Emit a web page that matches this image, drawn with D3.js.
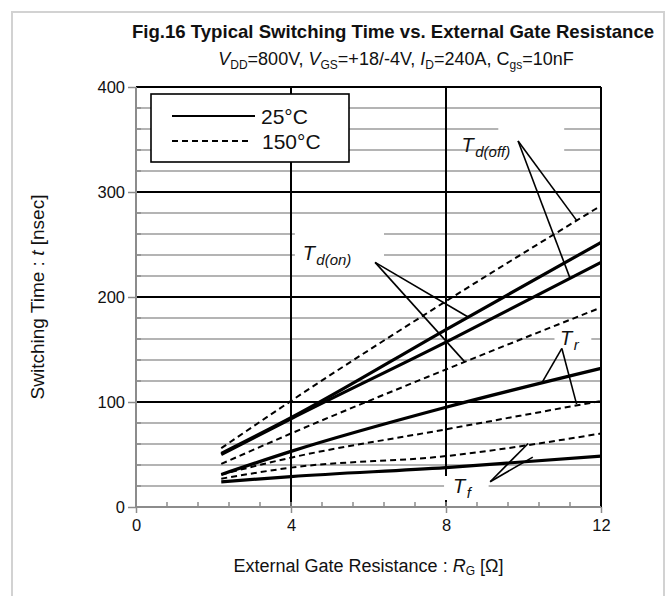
<!DOCTYPE html>
<html><head><meta charset="utf-8">
<script src="https://cdn.jsdelivr.net/npm/d3@7"></script>
<style>body{margin:0;background:#fff}svg{display:block}text{font-family:Arial,"Liberation Sans",sans-serif;fill:#111}</style>
</head><body><svg id="c" width="671" height="596"></svg>
<script>
// ---- data ----
const rg = [2.2, 4, 8, 12];
const tdOn25 = [51, 85, 169, 252];
const tdOff25 = [50, 84, 157, 233];
const tr25 = [31, 53, 95, 132];
const tf25 = [24, 29, 37.5, 48.5];
const tdOff150 = [56, 101, 196, 287];
const tdOn150 = [41, 70, 131, 190];
const tr150 = [31, 47, 74, 101];
const tf150 = [27, 37.5, 48.5, 70];
const xMajor = [0, 4, 8, 12];
const yMajor = [0, 100, 200, 300, 400];
const legendLabels = ["25°C", "150°C"];
const labelNames = [["T","d(off)"],["T","d(on)"],["T","r"],["T","f"]];

const svg = d3.select("#c");
const x = d3.scaleLinear().domain([0, 12]).range([136, 601]);
const y = d3.scaleLinear().domain([0, 400]).range([507, 87]);

// outer frame
svg.append("rect").attr("x",12).attr("y",12).attr("width",652).attr("height",600)
  .attr("fill","none").attr("stroke","#d2d2d2").attr("stroke-width",2);

// title
svg.append("text").attr("x",393).attr("y",38).attr("text-anchor","middle")
  .style("font-weight","bold").style("font-size","18.6px")
  .text("Fig.16 Typical Switching Time vs. External Gate Resistance");
const sub = svg.append("text").attr("x",396).attr("y",65).attr("text-anchor","middle").style("font-size","18px");
const subParts = [["V","i"],["DD","s"],["=800V, ",""],["V","i"],["GS","s"],["=+18/-4V, ",""],["I","i"],["D","s"],["=240A, C",""],["gs","s"],["=10nF",""]];
let prevSub = false;
subParts.forEach(([t,k])=>{
  const ts = sub.append("tspan").text(t);
  if(k==="i") ts.style("font-style","italic");
  if(k==="s"){ ts.style("font-size","12px").attr("dy",4); prevSub=true; }
  else if(prevSub){ ts.attr("dy",-4); prevSub=false; }
});

// grid: gray minor
const gMinorY = d3.range(20, 400, 20).filter(v=>v%100!==0);
svg.append("g").selectAll("line").data(gMinorY).join("line")
  .attr("x1",x(0)).attr("x2",x(12)).attr("y1",d=>y(d)).attr("y2",d=>y(d))
  .attr("stroke","#b4b4b4").attr("stroke-width",2);
// black major horizontal
svg.append("g").selectAll("line").data(yMajor.filter(v=>v>0)).join("line")
  .attr("x1",x(0)).attr("x2",x(12)).attr("y1",d=>y(d)).attr("y2",d=>y(d))
  .attr("stroke","#000").attr("stroke-width",2);
// black major vertical
svg.append("g").selectAll("line").data(xMajor.filter(v=>v>0)).join("line")
  .attr("x1",d=>x(d)).attr("x2",d=>x(d)).attr("y1",y(0)).attr("y2",y(400))
  .attr("stroke","#000").attr("stroke-width",2);

// white boxes behind annotation labels
const boxes = [[7.95,9.1,476,500],[4.1,6.4,224,268],[10.8,11.75,327,352],[9.35,11.05,122,162]];
svg.append("g").selectAll("rect").data(boxes).join("rect")
  .attr("x",d=>x(d[0])).attr("width",d=>x(d[1])-x(d[0]))
  .attr("y",d=>d[2]).attr("height",d=>d[3]-d[2]).attr("fill","#fff");

// axes lines
svg.append("line").attr("x1",x(0)).attr("x2",x(0)).attr("y1",y(0)+1).attr("y2",y(400))
  .attr("stroke","#8c8c8c").attr("stroke-width",2);
svg.append("line").attr("x1",x(0)).attr("x2",x(12)).attr("y1",y(0)).attr("y2",y(0))
  .attr("stroke","#8c8c8c").attr("stroke-width",2);

// y axis ticks
const yAxis = d3.axisLeft(y).tickValues(yMajor).tickSize(8).tickPadding(3);
const ya = svg.append("g").attr("transform",`translate(${x(0)},0)`).call(yAxis);
ya.select(".domain").remove();
ya.selectAll(".tick line").attr("stroke","#8c8c8c").attr("stroke-width",1.5);
ya.selectAll(".tick text").style("font-size","16.5px").style("font-family","Arial, 'Liberation Sans', sans-serif").attr("fill","#111");
svg.append("g").selectAll("line").data(gMinorY).join("line")
  .attr("x1",x(0)).attr("x2",x(0)+5).attr("y1",d=>y(d)).attr("y2",d=>y(d))
  .attr("stroke","#8c8c8c").attr("stroke-width",1.5);

// x axis ticks
const xAxis = d3.axisBottom(x).tickValues(xMajor).tickSize(6).tickPadding(6);
const xa = svg.append("g").attr("transform",`translate(0,${y(0)})`).call(xAxis);
xa.select(".domain").remove();
xa.selectAll(".tick line").attr("stroke","#8c8c8c").attr("stroke-width",1.5);
xa.selectAll(".tick text").style("font-size","16.5px").style("font-family","Arial, 'Liberation Sans', sans-serif").attr("fill","#111");
const xMinor = d3.range(1,15).map(i=>i*0.8).filter(v=>v<12);
svg.append("g").selectAll("line").data(xMinor).join("line")
  .attr("x1",d=>x(d)).attr("x2",d=>x(d)).attr("y1",y(0)).attr("y2",y(0)-5)
  .attr("stroke","#8c8c8c").attr("stroke-width",1.5);

// axis titles
const yt = svg.append("text").attr("transform",`translate(44,${(y(0)+y(400))/2}) rotate(-90)`)
  .attr("text-anchor","middle").style("font-size","19px");
yt.append("tspan").text("Switching Time : ");
yt.append("tspan").text("t").style("font-style","italic");
yt.append("tspan").text(" [nsec]");
const xt = svg.append("text").attr("x",(x(0)+x(12))/2).attr("y",572).attr("text-anchor","middle").style("font-size","18px");
xt.append("tspan").text("External Gate Resistance : ");
xt.append("tspan").text("R").style("font-style","italic");
xt.append("tspan").text("G").style("font-size","12px").attr("dy",3);
xt.append("tspan").text(" [Ω]").attr("dy",-3);

// series
const series = [
  {v:tdOn25, dash:false},{v:tdOff25, dash:false},{v:tr25, dash:false},{v:tf25, dash:false},
  {v:tdOff150, dash:true},{v:tdOn150, dash:true},{v:tr150, dash:true},{v:tf150, dash:true}
];
const line = d3.line().x(d=>x(d[0])).y(d=>y(d[1])).curve(d3.curveMonotoneX);
svg.append("g").selectAll("path").data(series).join("path")
  .attr("d",s=>line(rg.map((r,i)=>[r,s.v[i]])))
  .attr("fill","none").attr("stroke","#000")
  .attr("stroke-width",s=>s.dash?2:3.2)
  .attr("stroke-dasharray",s=>s.dash?"6,4":null);

// annotation leader lines (data units)
const leaders = [
  [[9.86,348.6],[11.37,273]],[[9.86,348.6],[11.2,218]],
  [[6.17,233],[8.57,181]],[[6.17,233],[8.49,138]],
  [[10.99,151],[10.47,118]],[[10.99,151],[11.37,98]],
  [[9.14,24.1],[10.12,60.5]],[[9.14,24.1],[10.24,47.5]]
];
svg.append("g").selectAll("line").data(leaders).join("line")
  .attr("x1",d=>x(d[0][0])).attr("y1",d=>y(d[0][1]))
  .attr("x2",d=>x(d[1][0])).attr("y2",d=>y(d[1][1]))
  .attr("stroke","#000").attr("stroke-width",1.6);

// annotation labels
const labelPos = [[8.4,338],[4.3,235],[10.94,154],[8.18,13.5]];
labelPos.forEach((p,i)=>{
  const t = svg.append("text").attr("x",x(p[0])).attr("y",y(p[1])).style("font-style","italic").style("font-size","20px");
  t.append("tspan").text(labelNames[i][0]);
  t.append("tspan").text(labelNames[i][1]).style("font-size","15px").attr("dy",5).attr("dx",1.5);
});

// legend
const lg = svg.append("g");
lg.append("rect").attr("x",151).attr("y",94).attr("width",198).attr("height",68)
  .attr("fill","#fff").attr("stroke","#000").attr("stroke-width",1.6);
[0,1].forEach(i=>{
  const yy = 116 + i*25;
  lg.append("line").attr("x1",172).attr("x2",i?250:255).attr("y1",yy).attr("y2",yy)
    .attr("stroke","#000").attr("stroke-width",2).attr("stroke-dasharray",i?"6,4":null);
  lg.append("text").attr("x",i?262:261).attr("y",yy+7.5).style("font-size","21px").text(legendLabels[i]);
});
</script></body></html>
